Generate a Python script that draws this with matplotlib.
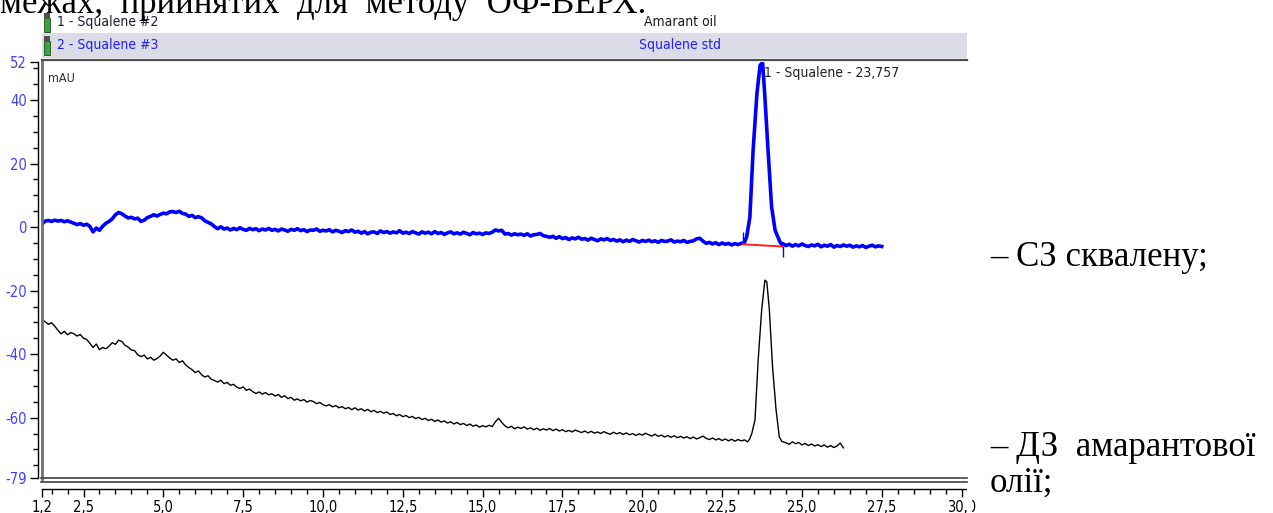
import numpy as np
import matplotlib
matplotlib.use('Agg')
import matplotlib.pyplot as plt
from matplotlib import font_manager
from matplotlib.ticker import FixedLocator, MultipleLocator
from matplotlib.patches import Rectangle
from matplotlib.lines import Line2D

W, H = 1273, 513

# narrow UI font if there is one, otherwise plain sans at a smaller size
fonts = font_manager.fontManager.ttflist
names = {f.name for f in fonts}
STRETCH = 'normal'
if 'Liberation Sans Narrow' in names:
    NARROW, fs = 'Liberation Sans Narrow', 12
elif any(f.name == 'DejaVu Sans' and f.stretch == 'condensed' for f in fonts):
    NARROW, fs, STRETCH = 'DejaVu Sans', 10, 'condensed'
else:
    NARROW, fs = 'Liberation Sans', 10
SERIF = 'Liberation Serif'

# ---- data (time in min, signal in mAU) ----
# Squalene std (blue), sampled every 0.1 min from 1.2 to 23.1
blue_pre = [
    1.0, 1.9, 2.1, 1.8, 2.2, 1.9, 2.1, 1.7, 2.0, 1.6,
    1.2, 0.8, 1.1, 0.6, 0.9, 0.2, -1.5, -0.3, -1.0, 0.3,
    1.2, 1.8, 2.6, 3.9, 4.6, 4.2, 3.5, 2.9, 3.1, 2.6,
    2.8, 1.8, 2.2, 3.0, 3.4, 3.9, 3.5, 4.0, 4.4, 4.2,
    4.8, 4.9, 4.6, 5.0, 4.3, 4.1, 3.4, 3.7, 3.0, 3.3,
    2.9, 2.0, 1.5, 1.0, 0.2, -0.5, 0.1, -0.6, -0.3, -0.9,
    -0.4, -0.8, -0.2, -0.7, -1.0, -0.4, -0.8, -0.5, -1.1, -0.6,
    -0.9, -0.4, -1.0, -0.7, -1.2, -0.6, -0.9, -1.3, -0.7, -1.0,
    -0.5, -1.1, -0.8, -1.4, -0.9, -1.0, -0.6, -1.3, -1.0, -1.2,
    -0.8, -1.5, -1.0, -1.3, -1.7, -1.1, -1.4, -0.9, -1.6, -1.3,
    -1.9, -1.4, -2.1, -1.6, -1.5, -2.0, -1.2, -1.7, -1.4, -1.9,
    -1.5, -1.8, -1.1, -1.9, -1.6, -2.0, -1.4, -1.8, -2.2, -1.5,
    -1.9, -1.6, -2.1, -1.4, -2.0, -1.7, -2.3, -1.8, -1.5, -2.1,
    -1.8, -2.2, -1.6, -2.0, -2.4, -1.7, -2.1, -1.9, -2.3, -1.8,
    -2.0, -1.6, -0.9, -1.2, -1.0, -2.2, -2.0, -2.5, -2.1, -2.4,
    -2.2, -2.6, -2.1, -2.8, -2.4, -2.3, -2.0, -2.7, -2.9, -3.2,
    -2.9, -3.5, -3.0, -3.6, -3.3, -3.9, -3.4, -3.7, -3.2, -3.8,
    -3.6, -4.1, -3.5, -3.9, -4.3, -3.7, -4.0, -3.6, -4.2, -3.9,
    -4.4, -4.0, -4.6, -4.1, -4.5, -3.9, -4.3, -4.7, -4.2, -4.5,
    -4.1, -4.6, -4.3, -4.8, -4.2, -4.5, -4.4, -4.0, -4.7, -4.4,
    -4.6, -4.2, -4.8, -4.5, -4.3, -3.7, -3.5, -4.4, -5.1, -4.8,
    -5.3, -4.9, -5.5, -5.0, -5.4, -5.1, -5.6, -5.2, -5.5, -5.1,
]
blue_peak_t = [23.15, 23.20, 23.27, 23.37, 23.47, 23.59, 23.69, 23.74,
               23.77, 23.84, 23.94, 24.05, 24.16, 24.31, 24.38]
blue_peak = [-5.0, -4.8, -3.0, 3.2, 24.0, 42.0, 51.0, 51.5,
             51.6, 41.0, 24.0, 6.4, -1.0, -4.6, -5.6]
# from 24.4 to 27.5 every 0.1 min
blue_post = [
    -5.2, -5.8, -5.4, -6.0, -5.5, -5.9, -5.3, -5.8, -6.1, -5.6,
    -5.9, -5.4, -6.2, -5.7, -6.0, -5.5, -6.3, -5.8, -6.1, -5.6,
    -6.0, -5.7, -6.3, -5.9, -6.2, -5.8, -6.4, -6.0, -5.7, -6.2,
    -5.9, -6.1,
]

# Amarant oil (black), every 0.1 min from 1.2 to 23.3
black_pre = [
    -29.2, -29.8, -30.6, -30.1, -31.2, -32.5, -33.6, -32.8, -33.9, -33.2,
    -33.6, -34.3, -33.8, -35.0, -35.4, -36.6, -37.9, -36.8, -38.6, -37.9,
    -38.3, -37.5, -36.4, -36.9, -35.6, -36.0, -37.2, -37.8, -38.7, -38.9,
    -40.2, -40.8, -40.3, -41.5, -41.0, -41.9, -41.4, -40.6, -39.4, -40.3,
    -41.2, -41.9, -41.5, -42.6, -42.1, -43.4, -44.2, -44.9, -45.8, -45.3,
    -46.5, -47.2, -46.8, -47.9, -48.3, -48.8, -48.2, -49.3, -48.9, -49.8,
    -49.5, -50.4, -50.8, -50.3, -51.4, -51.0, -51.8, -52.4, -51.9, -52.6,
    -52.1, -52.8, -52.5, -53.2, -52.7, -53.6, -53.1, -54.0, -53.6, -54.5,
    -54.1, -54.7, -54.3, -55.1, -54.6, -54.9, -55.6, -55.2, -55.9, -56.3,
    -55.9, -56.6, -56.2, -56.9, -56.5, -57.2, -56.8, -57.5, -56.9, -57.6,
    -57.2, -57.9, -57.4, -58.1, -57.7, -58.4, -58.0, -58.6, -58.2, -59.0,
    -58.7, -59.4, -59.0, -59.7, -59.3, -60.0, -59.6, -60.3, -59.9, -60.6,
    -60.2, -60.9, -60.5, -61.2, -60.7, -61.4, -61.0, -61.7, -61.3, -62.0,
    -61.5, -62.2, -61.8, -62.5, -62.0, -62.7, -62.3, -63.0, -62.5, -62.9,
    -62.4, -62.8, -61.3, -60.2, -61.5, -62.6, -63.2, -62.7, -63.5, -63.0,
    -63.4, -62.9, -63.6, -63.2, -63.8, -63.3, -64.0, -63.5, -63.9, -63.4,
    -64.1, -63.6, -64.2, -63.8, -64.4, -64.0, -64.5, -63.9, -64.3, -64.7,
    -64.2, -64.8, -64.3, -64.9, -64.5, -65.0, -64.4, -64.9, -65.2, -64.6,
    -65.1, -64.7, -65.3, -64.8, -65.4, -65.0, -65.6, -65.1, -65.5, -64.9,
    -65.4, -65.8, -65.2, -65.9, -65.5, -66.1, -65.6, -66.2, -65.7, -66.3,
    -65.9, -66.4, -66.0, -66.6, -66.1, -66.7, -66.3, -65.8, -66.5, -66.9,
    -66.4, -67.0, -66.6, -67.2, -66.7, -67.3, -66.8, -67.4, -66.9, -67.3,
    -67.0, -67.6,
]
black_peak_t = [23.36, 23.43, 23.53, 23.63, 23.74, 23.84, 23.90, 23.98,
                24.08, 24.19, 24.29, 24.37]
black_peak = [-66.8, -65.0, -60.7, -41.8, -26.0, -16.7, -17.2, -26.0,
              -44.0, -57.5, -66.0, -67.5]
# from 24.5 to 26.3 every 0.1 min
black_post = [
    -67.9, -68.4, -67.6, -68.2, -67.8, -68.6, -68.1, -68.8, -68.3, -68.9,
    -68.5, -69.1, -68.6, -69.3, -68.8, -69.4, -68.9, -68.0, -69.5,
]

# integration baseline and peak start/end marks
base_t = [23.15, 24.38]
base_y = [-5.4, -6.1]
mark_t = [23.15, 24.40]
mark_lo = [-5.0, -9.4]
mark_hi = [-1.6, -5.8]

peak_label = '1 - Squalene - 23,757'
peak_pos = (23.80, 48.4)

xticks = [1.2, 2.5, 5.0, 7.5, 10.0, 12.5, 15.0, 17.5, 20.0, 22.5, 25.0, 27.5, 30.0]
yticks = [52, 40, 20, 0, -20, -40, -60, -79]

# ---- build series ----
t_b = np.concatenate([1.2 + 0.1 * np.arange(len(blue_pre)), blue_peak_t,
                      24.4 + 0.1 * np.arange(len(blue_post))])
y_b = np.concatenate([blue_pre, blue_peak, blue_post])
t_k = np.concatenate([1.2 + 0.1 * np.arange(len(black_pre)), black_peak_t,
                      24.5 + 0.1 * np.arange(len(black_post))])
y_k = np.concatenate([black_pre, black_peak, black_post])


def fx(px):
    return px / W


def fy(py):
    return 1 - py / H


ui = dict(family=NARROW, fontstretch=STRETCH, fontsize=fs)

fig = plt.figure(figsize=(W / 100, H / 100), dpi=100)
ax = fig.add_axes([fx(42), fy(478), 925 / W, 416 / H])
ax.set_xlim(1.2, 30.17)
ax.set_ylim(-79, 52)

ax.plot(t_k, y_k, color='black', lw=1.0)
ax.plot(t_b, y_b, color='#0000ff', lw=2.6)
ax.plot(base_t, base_y, color='#ff2020', lw=1.4)
ax.vlines(mark_t, mark_lo, mark_hi, color='#0000ff', lw=1.0)
ax.text(peak_pos[0], peak_pos[1], peak_label, color='#202020', va='center', **ui)
ax.text(0.007, 0.975, 'mAU', transform=ax.transAxes, color='#303030', va='top',
        family=NARROW, fontstretch=STRETCH, fontsize=fs - 1)

for s in ['top', 'right']:
    ax.spines[s].set_visible(False)
ax.spines['left'].set_position(('outward', 3))
ax.spines['bottom'].set_position(('outward', 8))
ax.spines['left'].set_linewidth(1.0)
ax.spines['bottom'].set_linewidth(1.0)

ax.xaxis.set_major_locator(FixedLocator(xticks))
ax.set_xticklabels([f'{v:.1f}'.replace('.', ',') for v in xticks])
ax.xaxis.set_minor_locator(FixedLocator(np.arange(1.5, 30.1, 0.5)))
ax.yaxis.set_major_locator(FixedLocator(yticks))
ax.set_yticklabels([str(v) for v in yticks])
ax.yaxis.set_minor_locator(MultipleLocator(5))
ax.tick_params(axis='both', which='major', length=6, width=1, direction='out',
               labelsize=fs + 0.5, pad=2)
ax.tick_params(axis='both', which='minor', length=3.5, width=1, direction='out')
ax.tick_params(axis='y', labelcolor='#4040ff')
for lab in ax.get_xticklabels() + ax.get_yticklabels():
    lab.set_family(NARROW)
    lab.set_fontstretch(STRETCH)

# chart frame
fig.add_artist(Line2D([fx(41.5)] * 2, [fy(61), fy(479)], color='#707070', lw=2))
fig.add_artist(Line2D([fx(41), fx(967)], [fy(478)] * 2, color='#404040', lw=1.2))
fig.add_artist(Line2D([fx(41), fx(967)], [fy(482)] * 2, color='#404040', lw=1.2))

# header rows
fig.add_artist(Rectangle((fx(42), fy(58)), 925 / W, 25 / H, color='#dcdce9', lw=0))
fig.add_artist(Line2D([fx(42), fx(967)], [fy(60)] * 2, color='#505050', lw=1.6))
for top in (13, 36):
    fig.add_artist(Rectangle((fx(44), fy(top + 5)), 6 / W, 5 / H, color='#505050', lw=0))
    fig.add_artist(Rectangle((fx(44), fy(top + 19)), 6 / W, 14 / H,
                             facecolor='#3da43d', edgecolor='#1f4f1f', lw=0.6))
fig.text(fx(57), fy(22), '1 - Squalene #2', color='#1c1c3a', va='center', **ui)
fig.text(fx(57), fy(45), '2 - Squalene #3', color='#2020ff', va='center', **ui)
fig.text(fx(680), fy(22), 'Amarant oil', color='#1c1c1c', va='center',
         ha='center', **ui)
fig.text(fx(680), fy(45), 'Squalene std', color='#2020ff', va='center',
         ha='center', **ui)

# surrounding document text
doc = dict(fontsize=25, family=SERIF, color='black', va='baseline')
fig.text(fx(0), fy(13), 'межах,  прийнятих  для  методу  ОФ-ВЕРХ.', **doc)
fig.text(fx(990), fy(266), '– СЗ сквалену;', **doc)
fig.text(fx(990), fy(456), '– ДЗ  амарантової', **doc)
fig.text(fx(990), fy(492), 'олії;', **doc)

# the screenshot is cut off at the right edge of the chart
fig.add_artist(Rectangle((fx(967), 0), 5 / W, fy(488), color='white', lw=0, zorder=10))

fig.savefig('out.png', dpi=100)
